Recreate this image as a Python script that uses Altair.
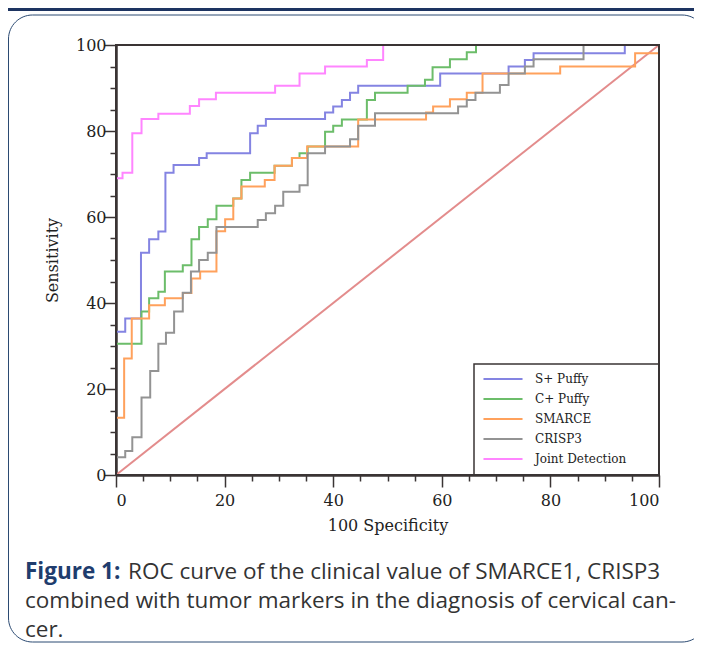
import altair as alt
import pandas as pd

# ---------------- data ----------------
series_names = ["S+ Puffy", "C+ Puffy", "SMARCE", "CRISP3", "Joint Detection"]
series_colors = ["#8484e2", "#6cbd6a", "#ffa15c", "#939393", "#ff85ff"]

sp_x = [0, 1.7, 4.6, 6.1, 7.8, 9.1, 10.6, 15.3, 16.7, 24.7, 26.1, 27.6, 38.5, 40.0, 41.6, 43.1, 44.6, 59.7, 72.3, 75.3, 76.9, 93.7, 100]
sp_y = [33.3, 36.4, 51.7, 54.8, 56.6, 70.3, 72.1, 73.7, 74.8, 79.5, 81.2, 82.8, 84.3, 85.7, 87.2, 88.9, 90.5, 93.4, 95.0, 96.5, 98.1, 100, 100]

cp_x = [0, 4.7, 6.1, 7.8, 9.0, 12.3, 13.9, 15.3, 16.9, 18.5, 21.6, 23.1, 24.7, 29.2, 32.4, 33.8, 35.3, 38.5, 40.0, 41.6, 46.2, 47.7, 53.7, 56.9, 58.3, 61.5, 64.6, 66.3, 100]
cp_y = [30.5, 38.0, 41.1, 42.6, 47.3, 48.8, 54.8, 57.7, 59.5, 62.6, 64.3, 68.6, 70.3, 71.9, 73.7, 74.8, 76.4, 79.8, 81.2, 82.7, 87.2, 88.9, 90.5, 91.9, 94.8, 96.7, 98.3, 100, 100]

sm_x = [0, 1.5, 2.9, 6.1, 9.0, 12.3, 13.9, 15.5, 18.5, 20.1, 21.6, 23.1, 27.4, 29.2, 32.4, 35.2, 44.6, 57.1, 58.4, 61.5, 64.6, 67.5, 81.8, 95.6, 100]
sm_y = [13.3, 27.1, 36.4, 39.5, 41.1, 42.3, 45.7, 47.3, 56.7, 59.5, 64.3, 67.1, 68.6, 71.9, 73.7, 76.4, 82.7, 84.3, 85.7, 87.4, 88.9, 93.4, 95.0, 98.1, 100]

cr_x = [0, 1.7, 3.0, 4.7, 6.3, 7.8, 9.2, 10.7, 12.3, 13.8, 15.3, 16.9, 18.5, 26.1, 27.6, 29.3, 30.8, 33.8, 35.3, 38.5, 43.1, 44.6, 47.7, 63.0, 64.6, 66.2, 70.7, 72.3, 75.3, 76.9, 86.1, 100]
cr_y = [4.1, 5.6, 8.8, 18.0, 24.2, 30.5, 33.1, 38.0, 42.4, 47.3, 50.0, 51.7, 57.7, 59.3, 60.9, 62.6, 65.9, 67.4, 74.8, 76.4, 78.1, 81.2, 84.1, 85.7, 87.2, 88.9, 90.7, 93.4, 95.0, 96.7, 100, 100]

jd_x = [0, 1.2, 3.0, 4.7, 7.8, 13.6, 15.3, 18.4, 29.3, 33.8, 38.5, 46.2, 49.2, 100]
jd_y = [69.0, 70.3, 79.5, 82.8, 84.0, 85.8, 87.4, 88.9, 90.5, 93.4, 95.0, 96.5, 100, 100]

diag_x = [0, 100]
diag_y = [0, 100]

axis_ticks = list(range(0, 101, 5))

x_title = "100 Specificity"
y_title = "Sensitivity"
caption_bold = "Figure 1:"
caption_line1 = "ROC curve of the clinical value of SMARCE1, CRISP3"
caption_line2 = "combined with tumor markers in the diagnosis of cervical can-"
caption_line3 = "cer."

# ---------------- build tables ----------------
rows = []
for name, xs, ys in zip(series_names,
                        [sp_x, cp_x, sm_x, cr_x, jd_x],
                        [sp_y, cp_y, sm_y, cr_y, jd_y]):
    for i, (a, b) in enumerate(zip(xs, ys)):
        rows.append({"series": name, "x": a, "y": b, "order": i})
roc = pd.DataFrame(rows)
diag = pd.DataFrame({"x": diag_x, "y": diag_y})

SERIF = "DejaVu Serif"
AXIS_COL = "#3a3434"
major = "datum.value % 20 === 0"

common_axis = dict(
    values=axis_ticks, labelExpr=f"{major} ? datum.label : ''", labelOverlap=False,
    tickSize={"condition": {"test": major, "value": 12}, "value": 6},
    grid=False, labelFont=SERIF, labelFontSize=16, labelColor="#222",
    titleFont=SERIF, titleFontSize=16, titleFontWeight="normal", titleColor="#222",
    domainColor=AXIS_COL, domainWidth=2.5, tickColor=AXIS_COL, tickWidth=1.5,
)
x_axis = alt.Axis(title=x_title, labelPadding=5, titlePadding=9, **common_axis)
y_axis = alt.Axis(title=y_title, labelPadding=-2, titlePadding=15, **common_axis)

xs = alt.X("x:Q", scale=alt.Scale(domain=[0, 100], nice=False), axis=x_axis)
ys = alt.Y("y:Q", scale=alt.Scale(domain=[0, 100], nice=False), axis=y_axis)

diag_line = alt.Chart(diag).mark_line(color="#e38c8c", strokeWidth=2).encode(x=xs, y=ys)

lines = alt.Chart(roc).mark_line(interpolate="step-after", strokeWidth=2).encode(
    x=xs, y=ys, order="order:Q",
    color=alt.Color(
        "series:N",
        scale=alt.Scale(domain=series_names, range=series_colors),
        legend=alt.Legend(
            orient="none", legendX=370, legendY=324, padding=0, rowPadding=4,
            title=None, symbolType="M-2.17,0H2.17", symbolSize=324,
            symbolStrokeWidth=2, symbolOffset=7, labelOffset=22,
            labelFont=SERIF, labelFontSize=12, labelColor="#222",
        ),
    ),
)

one = alt.Data(values=[{}])

plot_frame = alt.Chart(one).mark_rect(fillOpacity=0, stroke=AXIS_COL, strokeWidth=2).encode(
    x=alt.value(0), x2=alt.value(543), y=alt.value(0), y2=alt.value(430)
)
legend_frame = alt.Chart(one).mark_rect(fillOpacity=0, stroke=AXIS_COL, strokeWidth=1.5).encode(
    x=alt.value(358), x2=alt.value(543), y=alt.value(319), y2=alt.value(430)
)

page_box = alt.Chart(one).mark_rect(fillOpacity=0, stroke="#2b4a72", strokeWidth=1, cornerRadius=24).encode(
    x=alt.value(-107.5), x2=alt.value(590), y=alt.value(-30), y2=alt.value(597)
)
top_bar = alt.Chart(one).mark_rect(color="#1d3461").encode(
    x=alt.value(-108), x2=alt.value(580), y=alt.value(-37), y2=alt.value(-34)
)

CAP_FONT = "Open Sans"
CAP_SIZE = 22.5
cap_b = alt.Chart(one).mark_text(text=caption_bold, font=CAP_FONT, fontSize=CAP_SIZE, fontWeight="bold",
                                 color="#1f3d6e", align="left", baseline="alphabetic").encode(
    x=alt.value(-91), y=alt.value(534))
cap_1 = alt.Chart(one).mark_text(text=caption_line1, font=CAP_FONT, fontSize=CAP_SIZE,
                                 color="#333333", align="left", baseline="alphabetic").encode(
    x=alt.value(12), y=alt.value(534))
cap_2 = alt.Chart(one).mark_text(text=caption_line2, font=CAP_FONT, fontSize=CAP_SIZE,
                                 color="#333333", align="left", baseline="alphabetic").encode(
    x=alt.value(-91), y=alt.value(563))
cap_3 = alt.Chart(one).mark_text(text=caption_line3, font=CAP_FONT, fontSize=CAP_SIZE,
                                 color="#333333", align="left", baseline="alphabetic").encode(
    x=alt.value(-91), y=alt.value(592))

chart = alt.layer(
    page_box, top_bar, diag_line, lines, plot_frame, legend_frame, cap_b, cap_1, cap_2, cap_3
).properties(
    width=543, height=430,
    autosize=alt.AutoSizeParams(type="none"),
    padding={"left": 108, "top": 37, "right": 35, "bottom": 169},
).configure_view(stroke=None)

chart.save("out.html", embed_options={"renderer": "svg", "actions": False})
